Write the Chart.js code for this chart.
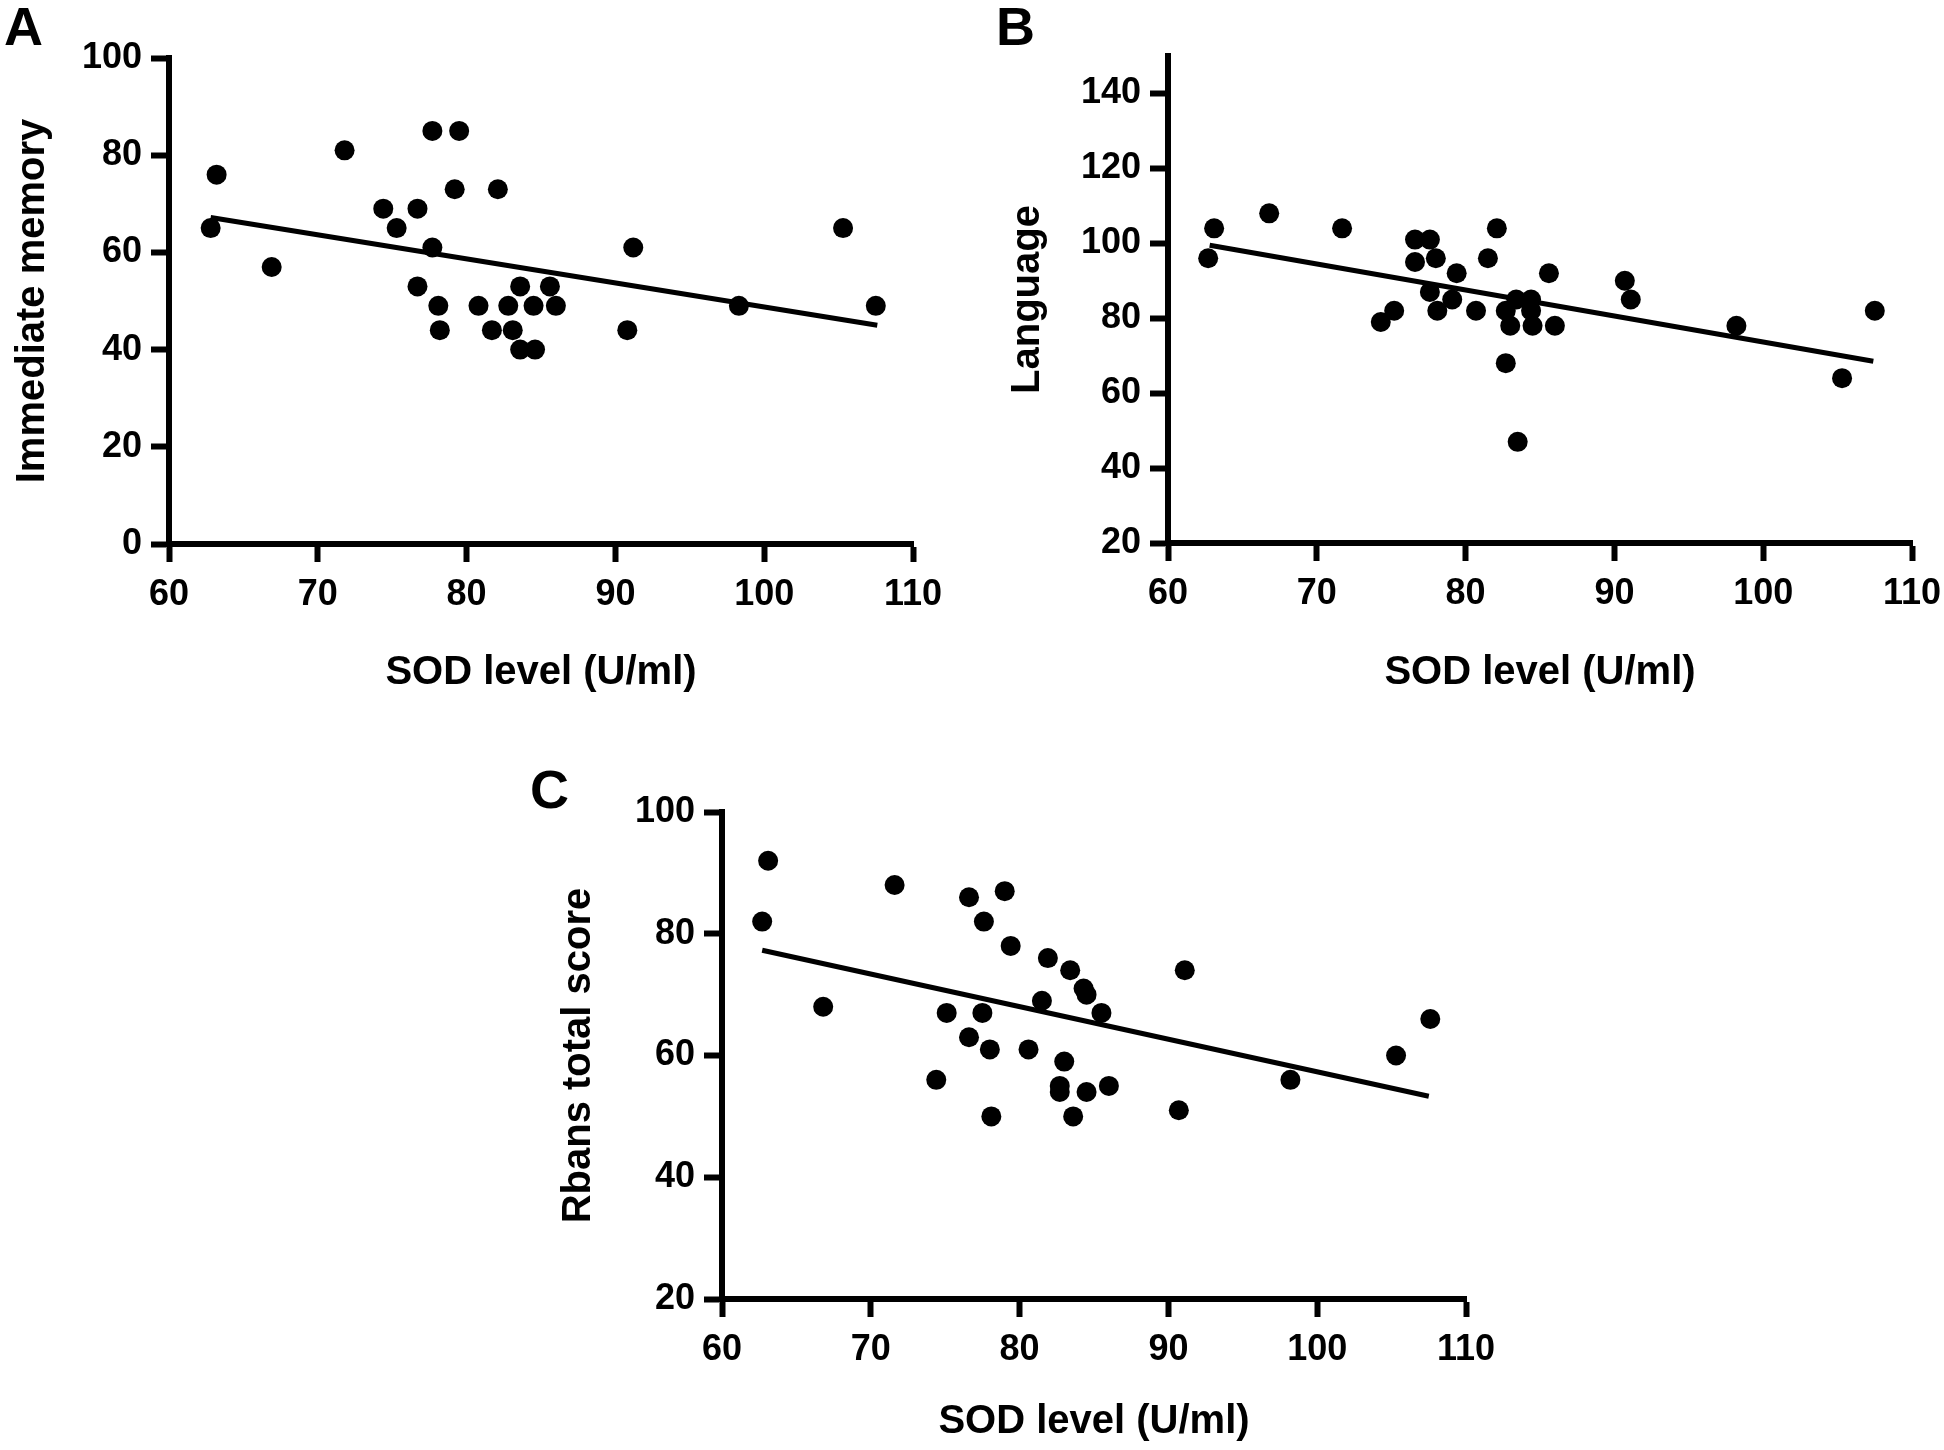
<!DOCTYPE html>
<html>
<head>
<meta charset="utf-8">
<title>SOD level correlations</title>
<script src="https://cdn.jsdelivr.net/npm/chart.js@4.4.1/dist/chart.umd.min.js"></script>
<style>
    body { margin: 0; background: #fff; }
    #page { position: relative; width: 1944px; height: 1450px; overflow: hidden; background: #fff; }
    canvas { position: absolute; }
    .panel-label {
        position: absolute;
        font-family: 'Liberation Sans', Arial, sans-serif;
        font-weight: bold;
        font-size: 54px;
        line-height: 54px;
        color: #000;
    }
</style>
</head>
<body>
<div id="page">
    <div class="panel-label" style="left:4px; top:-1px;">A</div>
    <div class="panel-label" style="left:996px; top:-1px;">B</div>
    <div class="panel-label" style="left:530px; top:762px;">C</div>
    <canvas id="chartA" width="960" height="701" style="left:0px; top:0px;"></canvas>
    <canvas id="chartB" width="954" height="701" style="left:990px; top:0px;"></canvas>
    <canvas id="chartC" width="960" height="690" style="left:540px; top:760px;"></canvas>
</div>
<script>
// Panel A - Immediate memory
const sodA = [62.8, 63.2, 66.9, 71.8, 74.4, 75.3, 76.7, 77.7, 79.5, 79.2, 77.7, 76.7, 78.1, 78.2, 80.8,
              82.1, 81.7, 82.8, 83.1, 83.6, 83.6, 84.5, 84.6, 85.6, 86.0, 90.8, 91.2, 98.3, 105.3, 107.5];
const memoryA = [65, 76, 57, 81, 69, 65, 69, 85, 85, 73, 61, 53, 49, 44, 49,
                 73, 44, 49, 44, 53, 40, 49, 40, 53, 49, 44, 61, 49, 65, 49];
const fitSodA = [62.8, 107.6];
const fitMemoryA = [67.2, 45.0];

// Panel B - Language
const sodB = [62.7, 63.1, 66.8, 71.7, 74.3, 75.2, 76.6, 77.6, 76.6, 78.0, 77.6, 78.1, 79.1, 79.4, 80.7, 81.5,
              82.1, 82.7, 82.7, 83.0, 83.4, 83.5, 84.4, 84.4, 84.5, 85.6, 86.0, 90.7, 91.1, 98.2, 105.3, 107.5];
const languageB = [96, 104, 108, 104, 79, 82, 101, 101, 95, 96, 87, 82, 85, 92, 82, 96,
                   104, 82, 68, 78, 85, 47, 85, 82, 78, 92, 78, 90, 85, 78, 64, 82];
const fitSodB = [62.8, 107.4];
const fitLanguageB = [99.5, 68.5];

// Panel C - Rbans total score
const sodC = [62.7, 63.1, 66.8, 71.6, 74.4, 75.1, 76.6, 77.6, 79.0, 79.4, 77.5, 76.6, 78.0, 78.1, 80.6, 81.9,
              81.5, 83.0, 82.7, 82.7, 83.4, 83.6, 84.3, 84.5, 84.5, 85.5, 86.0, 90.7, 91.1, 98.2, 105.3, 107.6];
const rbansC = [82, 92, 68, 88, 56, 67, 86, 82, 87, 78, 67, 63, 61, 50, 61, 76,
                69, 59, 55, 54, 74, 50, 71, 70, 54, 67, 55, 51, 74, 56, 60, 66];
const fitSodC = [62.7, 107.5];
const fitRbansC = [77.3, 53.3];

const xTicks = [60, 70, 80, 90, 100, 110];

const tickFont = { family: "'Liberation Sans', Arial, sans-serif", size: 36, weight: 'bold' };
const titleFont = { family: "'Liberation Sans', Arial, sans-serif", size: 40, weight: 'bold' };

const toPoints = (xs, ys) => xs.map((x, i) => ({ x, y: ys[i] }));

const makeChart = (id, opts) => {
    const ctx = document.getElementById(id).getContext('2d');
    return new Chart(ctx, {
        type: 'scatter',
        data: {
            datasets: [{
                data: toPoints(opts.xs, opts.ys),
                backgroundColor: '#000',
                borderWidth: 0,
                pointRadius: 10,
                pointHoverRadius: 10,
                clip: false
            }, {
                type: 'line',
                data: toPoints(opts.fitX, opts.fitY),
                borderColor: '#000',
                borderWidth: 5,
                pointRadius: 0,
                fill: false,
                clip: false
            }]
        },
        options: {
            responsive: false,
            animation: false,
            events: [],
            layout: { padding: { top: opts.padTop, right: opts.padRight, bottom: 0, left: 0 } },
            plugins: { legend: { display: false }, tooltip: { enabled: false } },
            scales: {
                x: {
                    type: 'linear',
                    min: 60,
                    max: 110,
                    afterBuildTicks: s => { s.ticks = xTicks.map(v => ({ value: v })); },
                    afterFit: s => { s.height = opts.xHeight; s.paddingLeft = 0; s.paddingRight = 0; },
                    ticks: { color: '#000', font: tickFont, padding: 11, maxRotation: 0 },
                    grid: { drawOnChartArea: false, tickLength: 18, tickWidth: 6, tickColor: '#000' },
                    border: { color: '#000', width: 6 },
                    title: { display: true, text: 'SOD level (U/ml)', color: '#000', font: titleFont, padding: { top: 0, bottom: 4 } }
                },
                y: {
                    type: 'linear',
                    min: opts.yMin,
                    max: opts.yMax,
                    afterBuildTicks: s => { s.ticks = opts.yTicks.map(v => ({ value: v })); },
                    afterFit: s => { s.width = opts.yWidth; s.paddingTop = 0; s.paddingBottom = 0; },
                    ticks: { color: '#000', font: tickFont, padding: 9 },
                    grid: { drawOnChartArea: false, tickLength: 18, tickWidth: 6, tickColor: '#000' },
                    border: { color: '#000', width: 6 },
                    title: { display: true, text: opts.yTitle, color: '#000', font: titleFont, padding: { top: opts.yTitlePad, bottom: 0 } }
                }
            }
        }
    });
};

makeChart('chartA', {
    xs: sodA, ys: memoryA, fitX: fitSodA, fitY: fitMemoryA,
    yMin: 0, yMax: 100, yTicks: [0, 20, 40, 60, 80, 100], yTitle: 'Immediate memory',
    padTop: 58, padRight: 47, yWidth: 169, xHeight: 157, yTitlePad: 9
});

makeChart('chartB', {
    xs: sodB, ys: languageB, fitX: fitSodB, fitY: fitLanguageB,
    yMin: 20, yMax: 150, yTicks: [20, 40, 60, 80, 100, 120, 140], yTitle: 'Language',
    padTop: 56, padRight: 32, yWidth: 178, xHeight: 158, yTitlePad: 14
});

makeChart('chartC', {
    xs: sodC, ys: rbansC, fitX: fitSodC, fitY: fitRbansC,
    yMin: 20, yMax: 100, yTicks: [20, 40, 60, 80, 100], yTitle: 'Rbans total score',
    padTop: 52, padRight: 34, yWidth: 182, xHeight: 151, yTitlePad: 15
});
</script>
</body>
</html>
